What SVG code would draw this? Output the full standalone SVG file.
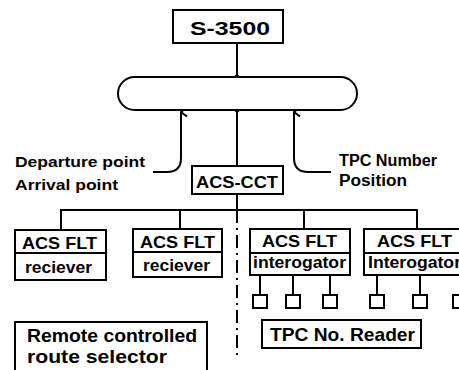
<svg xmlns="http://www.w3.org/2000/svg" width="459" height="370" viewBox="0 0 459 370">
<defs>
<style>
.b{fill:#fff;stroke:#000;stroke-width:2}
.l{fill:none;stroke:#000;stroke-width:2}
.t{font-family:"Liberation Sans",Arial,sans-serif;font-weight:bold;fill:#000}
</style>
<marker id="ah" viewBox="0 0 12 12" refX="6" refY="1" markerWidth="12" markerHeight="12" markerUnits="userSpaceOnUse" orient="auto-start-reverse">
<path d="M1.5,7 L6,1 L10.5,7" fill="none" stroke="#000" stroke-width="2"/>
</marker>
</defs>
<g id="connectors">
<line class="l" x1="237" y1="43" x2="237" y2="77"/>
<circle cx="237" cy="77" r="2.5"/>
<line class="l" x1="237" y1="110" x2="237" y2="166"/>
<circle cx="237" cy="110" r="2.5"/>
<line class="l" x1="237" y1="194" x2="237" y2="210"/>
<path class="l" d="M61,229 V210 H417 V229 M180,210 V229 M304,210 V229"/>
<line class="l" x1="237" y1="210" x2="237" y2="356" stroke-dasharray="13 5 2 5"/>
<path class="l" marker-start="url(#ah)" d="M181,112 V158 Q181,172 167,172 H153"/>
<path class="l" marker-start="url(#ah)" d="M294,112 V158 Q294,172 308,172 H331"/>
<path class="l" d="M260,275 V295 M293,275 V295 M330,275 V295 M377,275 V295 M420,275 V295 M460,275 V295"/>
</g>
<g id="s3500">
<rect class="b" x="173" y="10" width="110" height="33"/>
<text class="t" x="190" y="35" font-size="18" textLength="80" lengthAdjust="spacingAndGlyphs">S-3500</text>
</g>
<g id="bus">
<rect class="b" x="118" y="77" width="239" height="33" rx="16.5"/>
</g>
<g id="labels">
<text class="t" x="15" y="167" font-size="15" textLength="130" lengthAdjust="spacingAndGlyphs">Departure point</text>
<text class="t" x="15" y="190" font-size="15" textLength="103" lengthAdjust="spacingAndGlyphs">Arrival point</text>
<text class="t" x="339" y="166" font-size="16" textLength="98" lengthAdjust="spacingAndGlyphs">TPC Number</text>
<text class="t" x="339" y="186" font-size="16" textLength="68" lengthAdjust="spacingAndGlyphs">Position</text>
</g>
<g id="acscct">
<rect class="b" x="192" y="166" width="91" height="28"/>
<text class="t" x="196" y="188" font-size="17" textLength="82" lengthAdjust="spacingAndGlyphs">ACS-CCT</text>
</g>
<g id="flt1">
<rect class="b" x="15" y="230" width="91" height="50"/>
<line class="l" x1="15" y1="253" x2="106" y2="253"/>
<text class="t" x="22" y="249" font-size="17" textLength="75" lengthAdjust="spacingAndGlyphs">ACS FLT</text>
<text class="t" x="25" y="273" font-size="17" textLength="67" lengthAdjust="spacingAndGlyphs">reciever</text>
</g>
<g id="flt2">
<rect class="b" x="133" y="229" width="89" height="48"/>
<line class="l" x1="133" y1="252" x2="222" y2="252"/>
<text class="t" x="140" y="248" font-size="17" textLength="75" lengthAdjust="spacingAndGlyphs">ACS FLT</text>
<text class="t" x="143" y="271" font-size="17" textLength="67" lengthAdjust="spacingAndGlyphs">reciever</text>
</g>
<g id="flt3">
<rect class="b" x="250" y="229" width="100" height="46"/>
<line class="l" x1="250" y1="253" x2="350" y2="253"/>
<text class="t" x="262" y="247" font-size="17" textLength="75" lengthAdjust="spacingAndGlyphs">ACS FLT</text>
<text class="t" x="253" y="268" font-size="17" textLength="93" lengthAdjust="spacingAndGlyphs">interogator</text>
</g>
<g id="flt4">
<rect class="b" x="364" y="229" width="100" height="46"/>
<line class="l" x1="364" y1="253" x2="464" y2="253"/>
<text class="t" x="377" y="247" font-size="17" textLength="75" lengthAdjust="spacingAndGlyphs">ACS FLT</text>
<text class="t" x="368" y="268" font-size="17" textLength="93" lengthAdjust="spacingAndGlyphs">Interogator</text>
</g>
<g id="readers">
<rect class="b" x="253" y="295" width="14" height="13"/>
<rect class="b" x="286" y="295" width="14" height="13"/>
<rect class="b" x="323" y="295" width="14" height="13"/>
<rect class="b" x="370" y="295" width="14" height="13"/>
<rect class="b" x="413" y="295" width="14" height="13"/>
<rect class="b" x="453" y="295" width="14" height="13"/>
</g>
<g id="tpcreader">
<rect class="b" x="262" y="320" width="159" height="28"/>
<text class="t" x="270" y="341" font-size="19" textLength="145" lengthAdjust="spacingAndGlyphs">TPC No. Reader</text>
</g>
<g id="selector">
<rect class="b" x="15" y="322" width="192" height="60"/>
<text class="t" x="27" y="342" font-size="18" textLength="170" lengthAdjust="spacingAndGlyphs">Remote controlled</text>
<text class="t" x="27" y="363" font-size="18" textLength="140" lengthAdjust="spacingAndGlyphs">route selector</text>
</g>
</svg>
